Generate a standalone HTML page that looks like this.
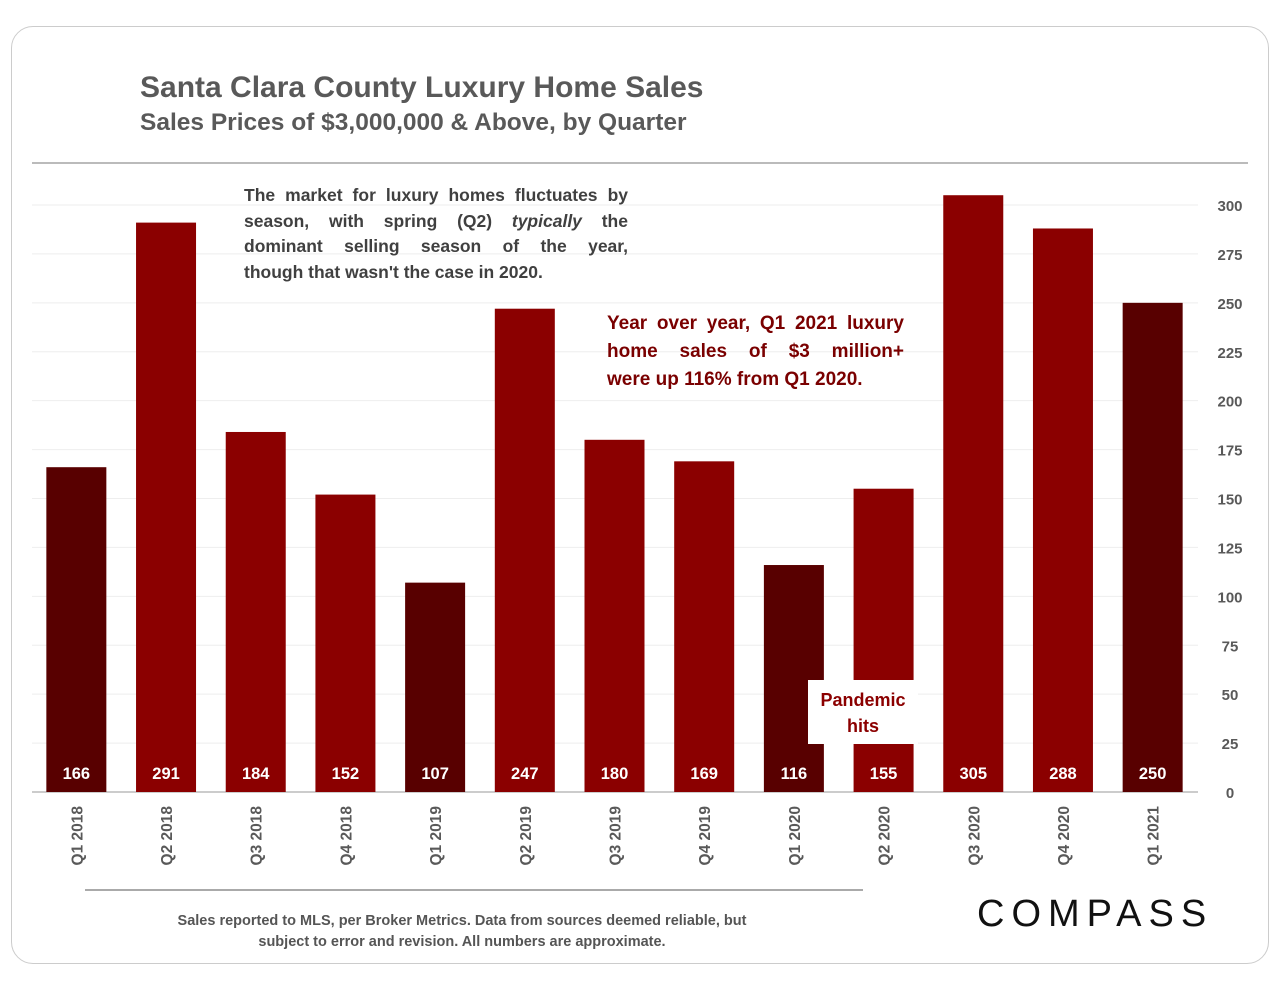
<!DOCTYPE html>
<html><head><meta charset="utf-8"><style>
body{margin:0;width:1280px;height:989px;background:#fff;font-family:"Liberation Sans",sans-serif;position:relative;overflow:hidden}
.abs{position:absolute}
.j{text-align:justify;text-align-last:justify;white-space:nowrap}
.j2{text-align:justify;text-align-last:justify}
</style></head><body>
<div class="abs" style="left:11px;top:26px;width:1256px;height:936px;border:1.5px solid #ccc;border-radius:22px"></div>
<div class="abs" style="left:140px;top:71px;font-size:30px;font-weight:bold;color:#595959">Santa Clara County Luxury Home Sales</div>
<div class="abs" style="left:140px;top:109px;font-size:24.5px;font-weight:bold;color:#595959">Sales Prices of $3,000,000 &amp; Above, by Quarter</div>
<div class="abs" style="left:32px;top:162px;width:1216px;height:2px;background:#bbb"></div>
<svg class="abs" style="left:0;top:0" width="1280" height="989" id="chart"></svg>
<div class="abs" style="left:244px;top:183px;width:384px;font-size:17.5px;line-height:25.7px;color:#404040;font-weight:bold">
<div class="j2">The market for luxury homes fluctuates by</div>
<div class="j2">season, with spring (Q2) <i>typically</i> the</div>
<div class="j2">dominant selling season of the year,</div>
<div>though that wasn't the case in 2020.</div></div>
<div class="abs" style="left:607px;top:310px;width:297px;font-size:19px;line-height:28px;color:#7a0000;font-weight:bold">
<div class="j2">Year over year, Q1 2021 luxury</div>
<div class="j2">home sales of $3 million+</div>
<div>were up 116% from Q1 2020.</div></div>
<div class="abs" style="left:808px;top:680px;width:110px;height:64px;background:#fff;color:#8b0000;font-weight:bold;font-size:18px;line-height:26px;text-align:center;padding-top:7px;box-sizing:border-box">Pandemic<br>hits</div>
<div class="abs" style="left:85px;top:889px;width:778px;height:1.5px;background:#aaa"></div>
<div class="abs" style="left:112px;top:911px;width:700px;text-align:center;font-size:14.5px;line-height:21px;font-weight:bold;color:#555">Sales reported to MLS, per Broker Metrics. Data from sources deemed reliable, but<br>subject to error and revision. All numbers are approximate.</div>
<div class="abs" style="left:977px;top:893px;font-size:38px;letter-spacing:7px;color:#111">COMPASS</div>
<script>
const categories=["Q1 2018","Q2 2018","Q3 2018","Q4 2018","Q1 2019","Q2 2019","Q3 2019","Q4 2019","Q1 2020","Q2 2020","Q3 2020","Q4 2020","Q1 2021"];
const values=[166,291,184,152,107,247,180,169,116,155,305,288,250];
const yTicks=[0,25,50,75,100,125,150,175,200,225,250,275,300];
const NS="http://www.w3.org/2000/svg";
const svg=document.getElementById('chart');
const y0=792,yTop=205,x0=32,x1=1198;
const y=v=>y0-(v/300)*(y0-yTop);
const step=(x1-x0)/categories.length;
const xc=i=>x0+step*(i+0.5)-0.5;
function mk(t,a){const e=document.createElementNS(NS,t);for(const k in a)e.setAttribute(k,a[k]);svg.appendChild(e);return e;}
yTicks.forEach(t=>{
 const l=mk('line',{x1:x0,x2:x1,y1:y(t),y2:y(t),stroke:t?'#eee':'#bbb','stroke-width':t?1:1.5});
 
 
 const tx=mk('text',{x:1230,y:y(t)+6,'text-anchor':'middle','font-size':15,'font-weight':'bold',fill:'#595959'});
 tx.textContent=t;
 
 
});
categories.forEach((c,i)=>{
 const v=values[i];const dark=c.startsWith('Q1');
 const r=mk('rect',{x:xc(i)-30,y:y(v),width:60,height:y0-y(v),fill:dark?'#580000':'#8b0000'});
 
 
 const vt=mk('text',{x:xc(i),y:779,'text-anchor':'middle','font-size':16.5,'font-weight':'bold',fill:'#fff'});
 vt.textContent=v;
 
 
 const xt=mk('text',{x:0,y:0,'text-anchor':'end','font-size':15.5,'font-weight':'bold',fill:'#595959',transform:`translate(${xc(i)+6},806) rotate(-90)`});
 xt.textContent=c;
 
 
});
</script>
</body></html>
